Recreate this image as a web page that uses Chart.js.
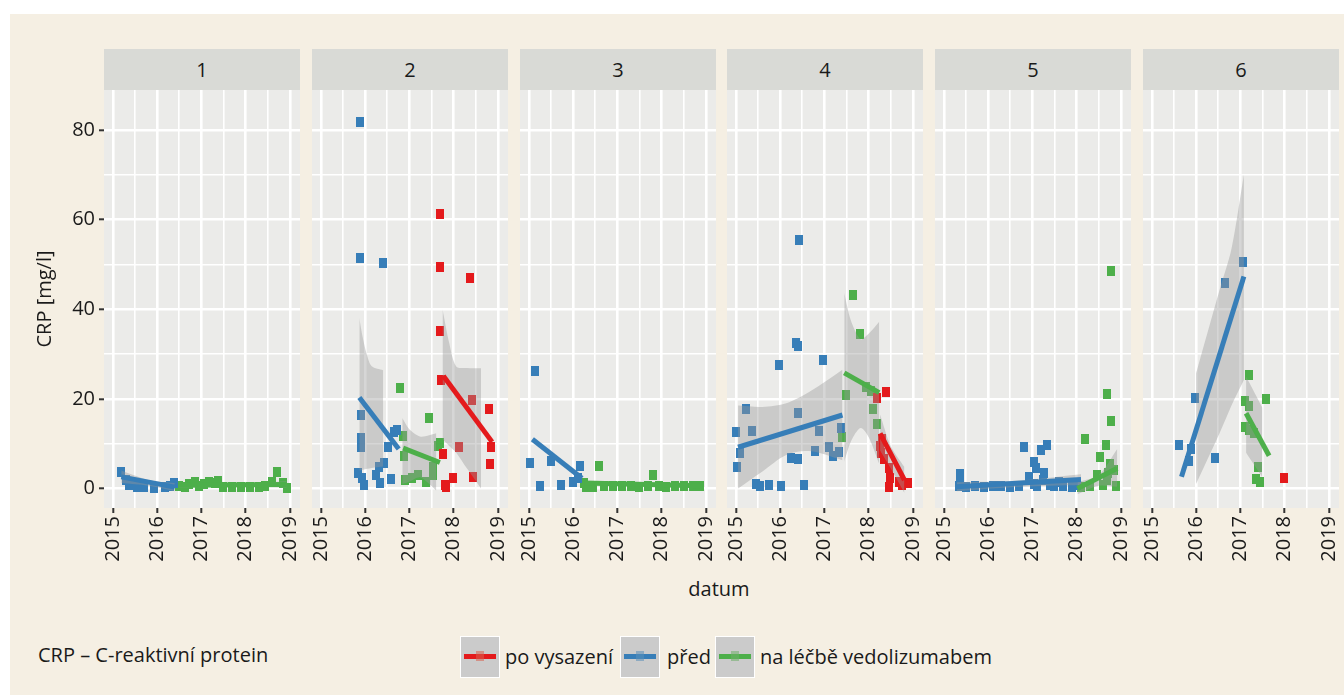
<!DOCTYPE html>
<html>
<head>
<meta charset="utf-8">
<script src="https://cdn.jsdelivr.net/npm/chart.js@4.4.0/dist/chart.umd.min.js"></script>
<style>
body { margin: 0; background: #fff; width: 1344px; height: 695px; overflow: hidden; font-family: 'Open Sans', sans-serif; color: #1a1a1a; }
#bg { position: absolute; left: 10px; top: 14px; width: 1334px; height: 681px; background: #f5efe3; }
.strip { position: absolute; top: 49px; height: 41px; background: #d9dad6; font-size: 20px; line-height: 41px; text-align: center; }
canvas { position: absolute; }
.lbl { position: absolute; font-size: 20px; white-space: nowrap; line-height: 24px; }
.key { position: absolute; top: 636px; width: 40px; height: 42px; background: #cbcbcb; border: 1px solid #fff; box-sizing: border-box; }
.key .ln { position: absolute; left: 3px; right: 3px; top: 17px; height: 5px; }
.key .pt { position: absolute; left: 15px; top: 14px; width: 8px; height: 10px; opacity: .55; }
</style>
</head>
<body>
<div id="bg"></div>
<div id="root"></div>
<script>
// facet labels, groups, ticks
const panelNames = ['1', '2', '3', '4', '5', '6'];
const groupNames = ['po vysazení', 'před', 'na léčbě vedolizumabem'];
const groupColors = ['#e41a1c', '#377eb8', '#4daf4a'];
const yearTicks = [2015, 2016, 2017, 2018, 2019];
const crpTicks = [0, 20, 40, 60, 80];

// points are [datum, CRP]; fits are [datum, CRP]; bands are [datum, lower, upper]

// panel 1
const p1Pred = [[2015.19,3.7],[2015.29,1.9],[2015.37,0.8],[2015.48,1.2],[2015.55,0.4],[2015.70,0.4],[2015.93,0.1],[2016.19,0.4],[2016.30,0.5],[2016.38,1.2]];
const p1PredFit = [[2015.19,2.6],[2016.40,0.3]];
const p1PredBand = [[2015.19,1.2,4.0],[2015.8,0.6,1.9],[2016.40,-0.6,1.2]];
const p1Lecba = [[2016.50,0.6],[2016.62,0.3],[2016.72,0.9],[2016.85,1.4],[2016.95,0.5],[2017.05,0.9],[2017.18,1.5],[2017.30,1.2],[2017.38,1.6],[2017.50,0.4],[2017.70,0.4],[2017.90,0.4],[2018.10,0.4],[2018.30,0.4],[2018.45,0.5],[2018.60,1.5],[2018.72,3.7],[2018.85,1.2],[2018.93,0.1]];
const p1LecbaFit = [[2016.50,0.7],[2018.93,0.9]];
const p1LecbaBand = [[2016.50,0.1,1.3],[2017.70,0.5,1.0],[2018.93,0.2,1.6]];

// panel 2
const p2Vys = [[2017.70,61.3],[2017.70,49.5],[2018.37,46.9],[2017.70,35.2],[2017.72,24.2],[2018.42,19.8],[2018.79,17.7],[2018.13,9.3],[2017.75,7.7],[2018.85,9.3],[2018.82,5.5],[2017.98,2.4],[2018.43,2.6],[2017.80,0.8],[2017.83,0.3]];
const p2VysFit = [[2017.77,25.1],[2018.87,10.4]];
const p2VysBand = [[2017.75,11.0,40.0],[2017.90,9.5,32.5],[2018.06,8.0,27.2],[2018.30,4.5,26.9],[2018.62,0.0,26.8]];
const p2Pred = [[2015.89,81.8],[2015.89,51.4],[2016.41,50.3],[2015.90,16.4],[2015.90,11.2],[2015.90,9.3],[2016.71,13.1],[2016.66,12.6],[2016.51,9.3],[2016.43,5.6],[2016.31,4.9],[2016.25,3.0],[2016.34,1.2],[2015.85,3.4],[2015.93,2.3],[2015.98,0.8],[2016.58,2.1]];
const p2PredFit = [[2015.87,20.3],[2016.76,8.8]];
const p2PredBand = [[2015.87,4.0,38.0],[2015.95,4.2,33.5],[2016.05,4.4,29.5],[2016.15,4.6,27.3],[2016.41,4.9,26.4]];
const p2Lecba = [[2016.78,22.5],[2017.45,15.7],[2016.86,11.7],[2017.69,10.1],[2016.88,7.3],[2017.53,4.9],[2016.90,1.9],[2017.05,2.3],[2017.20,3.0],[2017.37,1.5],[2017.53,3.0],[2017.65,9.5]];
const p2LecbaFit = [[2016.86,9.0],[2017.69,5.8]];
const p2LecbaBand = [[2016.84,1.0,15.7],[2017.00,1.5,13.2],[2017.24,2.5,11.6],[2017.45,1.0,11.9],[2017.61,-0.5,12.3]];

// panel 3
const p3Pred = [[2015.15,26.3],[2015.02,5.6],[2015.50,6.1],[2015.26,0.6],[2015.73,0.8],[2016.15,5.1],[2015.99,1.4],[2016.12,2.3]];
const p3PredFit = [[2015.08,11.0],[2016.20,2.3]];
const p3Lecba = [[2016.59,5.0],[2017.81,3.0],[2016.25,1.2],[2016.30,0.4],[2016.45,0.4],[2016.70,0.5],[2016.90,0.5],[2017.10,0.5],[2017.30,0.5],[2017.50,0.4],[2017.70,0.5],[2017.95,0.5],[2018.10,0.4],[2018.30,0.5],[2018.50,0.5],[2018.70,0.5],[2018.87,0.5]];
const p3LecbaFit = [[2016.25,1.2],[2018.87,0.6]];

// panel 4
const p4Vys = [[2018.39,21.6],[2018.20,20.1],[2018.28,7.9],[2018.35,6.5],[2018.46,4.5],[2018.49,2.3],[2018.46,0.4],[2018.69,1.5],[2018.88,1.2],[2018.25,9.5],[2018.30,11.0],[2018.75,0.8]];
const p4VysFit = [[2018.26,12.3],[2018.81,1.9]];
const p4VysBand = [[2018.26,8.5,16.5],[2018.50,4.5,9.5],[2018.81,-1.0,4.8]];
const p4Pred = [[2016.42,55.5],[2016.35,32.5],[2016.40,31.7],[2015.97,27.6],[2016.98,28.7],[2015.24,17.7],[2016.40,16.8],[2015.00,12.5],[2015.37,12.8],[2016.89,12.9],[2017.37,13.4],[2015.09,7.9],[2015.02,4.7],[2016.24,6.7],[2016.40,6.5],[2016.78,8.4],[2017.11,9.3],[2017.19,7.3],[2017.33,8.2],[2015.45,1.0],[2015.55,0.6],[2015.76,0.8],[2016.03,0.6],[2016.55,0.8]];
const p4PredFit = [[2015.05,9.2],[2017.41,16.4]];
const p4PredBand = [[2015.05,0.0,18.5],[2015.60,3.8,18.2],[2016.14,7.5,19.0],[2016.70,8.3,21.8],[2017.41,6.3,26.5]];
const p4Lecba = [[2017.64,43.2],[2017.80,34.5],[2017.49,20.9],[2017.94,22.7],[2018.09,17.7],[2018.20,14.3],[2017.41,11.6],[2018.05,21.8]];
const p4LecbaFit = [[2017.45,25.8],[2018.24,21.4]];
const p4LecbaBand = [[2017.45,6.0,43.6],[2017.60,10.5,37.5],[2017.82,13.5,33.3],[2018.00,11.5,34.5],[2018.24,5.5,37.2]];

// panel 5
const p5Pred = [[2015.36,3.2],[2015.37,2.0],[2015.35,0.5],[2015.50,0.4],[2015.70,0.5],[2015.90,0.4],[2016.10,0.5],[2016.30,0.5],[2016.50,0.4],[2016.70,0.6],[2016.82,9.2],[2017.04,6.0],[2017.08,4.5],[2017.19,8.6],[2017.34,9.7],[2016.93,2.5],[2017.27,3.5],[2017.04,1.0],[2017.10,0.5],[2017.40,0.8],[2017.50,0.5],[2017.70,0.6],[2017.90,0.4],[2018.00,0.8],[2017.60,1.5],[2017.25,2.0]];
const p5PredFit = [[2015.29,0.4],[2018.10,2.0]];
const p5PredBand = [[2015.29,-0.6,1.4],[2016.70,0.4,1.8],[2018.10,0.8,3.2]];
const p5Lecba = [[2018.77,48.5],[2018.69,21.1],[2018.78,15.1],[2018.18,11.0],[2018.67,9.7],[2018.54,7.0],[2018.47,3.0],[2018.69,2.0],[2018.85,4.1],[2018.88,0.5],[2018.10,0.4],[2018.30,0.5],[2018.60,0.8],[2018.75,5.5],[2018.72,3.5]];
const p5LecbaFit = [[2018.02,0.0],[2018.92,4.5]];
const p5LecbaBand = [[2018.02,-1.3,1.4],[2018.50,0.6,3.0],[2018.92,0.4,8.8]];

// panel 6
const p6Vys = [[2017.99,2.3]];
const p6Pred = [[2017.05,50.6],[2016.66,45.9],[2015.98,20.3],[2015.61,9.6],[2015.89,8.8],[2015.85,6.1],[2016.42,6.9]];
const p6PredFit = [[2015.67,2.6],[2017.08,47.3]];
const p6PredBand = [[2016.00,1.0,25.7],[2016.53,12.3,44.3],[2016.80,18.5,53.5],[2017.08,24.2,70.0]];
const p6Lecba = [[2017.19,25.3],[2017.10,19.6],[2017.59,19.9],[2017.19,18.3],[2017.10,13.7],[2017.20,13.0],[2017.30,12.3],[2017.40,4.9],[2017.35,2.1],[2017.45,1.5]];
const p6LecbaFit = [[2017.13,16.8],[2017.65,7.3]];
const p6LecbaBand = [[2017.13,8.0,25.0],[2017.50,2.5,18.0]];

// group order: po vysazení, před, na léčbě
const panels = [
  { pts: [[], p1Pred, p1Lecba], fit: [[], p1PredFit, p1LecbaFit], band: [[], p1PredBand, p1LecbaBand] },
  { pts: [p2Vys, p2Pred, p2Lecba], fit: [p2VysFit, p2PredFit, p2LecbaFit], band: [p2VysBand, p2PredBand, p2LecbaBand] },
  { pts: [[], p3Pred, p3Lecba], fit: [[], p3PredFit, p3LecbaFit], band: [[], [], []] },
  { pts: [p4Vys, p4Pred, p4Lecba], fit: [p4VysFit, p4PredFit, p4LecbaFit], band: [p4VysBand, p4PredBand, p4LecbaBand] },
  { pts: [[], p5Pred, p5Lecba], fit: [[], p5PredFit, p5LecbaFit], band: [[], p5PredBand, p5LecbaBand] },
  { pts: [p6Vys, p6Pred, p6Lecba], fit: [[], p6PredFit, p6LecbaFit], band: [[], p6PredBand, p6LecbaBand] }
];

Chart.defaults.font.family = "'Open Sans', sans-serif";
Chart.defaults.font.size = 20;
Chart.defaults.color = '#1a1a1a';

const RIBBON = 'rgba(153,153,153,0.4)';
const PANEL_TOP = 90, PANEL_H = 418, PANEL_W = 196, X_AXIS_H = 62;
const panelLefts = [104, 312, 520, 727, 935, 1143];

// little square markers like ggplot shape 15
function makeMarker(color) {
  const c = document.createElement('canvas');
  c.width = 8; c.height = 10;
  const cx = c.getContext('2d');
  cx.fillStyle = color;
  cx.fillRect(0, 0, 8, 10);
  return c;
}
const markers = groupColors.map(makeMarker);

const panelBg = {
  id: 'panelBg',
  beforeDraw(chart) {
    const { ctx, chartArea: a } = chart;
    ctx.save();
    ctx.fillStyle = '#ebebe9';
    ctx.fillRect(a.left, a.top, a.width, a.height);
    ctx.restore();
  }
};

function buildDatasets(p) {
  const ds = [];
  for (let g = 0; g < 3; g++) {
    if (!p.pts[g].length) continue;
    ds.push({
      type: 'scatter',
      data: p.pts[g].map(d => ({ x: d[0], y: d[1] })),
      pointStyle: markers[g], pointRadius: 5, order: 3
    });
  }
  for (let g = 0; g < 3; g++) {
    const b = p.band[g];
    if (!b.length) continue;
    ds.push({
      type: 'line', data: b.map(d => ({ x: d[0], y: d[2] })),
      borderWidth: 0, pointRadius: 0, tension: 0.3, fill: '+1', backgroundColor: RIBBON, order: 2
    });
    ds.push({
      type: 'line', data: b.map(d => ({ x: d[0], y: d[1] })),
      borderWidth: 0, pointRadius: 0, tension: 0.3, fill: false, order: 2
    });
  }
  for (let g = 0; g < 3; g++) {
    if (!p.fit[g].length) continue;
    ds.push({
      type: 'line', data: p.fit[g].map(d => ({ x: d[0], y: d[1] })),
      borderColor: groupColors[g], borderWidth: 5, borderCapStyle: 'butt',
      pointRadius: 0, fill: false, order: 1
    });
  }
  return ds;
}

const root = document.getElementById('root');

panels.forEach((p, i) => {
  const left = panelLefts[i];
  const yAxisW = i === 0 ? 84 : 0;

  const strip = document.createElement('div');
  strip.className = 'strip';
  strip.style.left = left + 'px';
  strip.style.width = PANEL_W + 'px';
  strip.textContent = panelNames[i];
  root.appendChild(strip);

  const canvas = document.createElement('canvas');
  canvas.width = PANEL_W + yAxisW;
  canvas.height = PANEL_H + X_AXIS_H;
  canvas.style.left = (left - yAxisW) + 'px';
  canvas.style.top = PANEL_TOP + 'px';
  root.appendChild(canvas);

  new Chart(canvas, {
    type: 'scatter',
    data: { datasets: buildDatasets(p) },
    options: {
      responsive: false,
      animation: false,
      devicePixelRatio: 1,
      layout: { padding: 0, autoPadding: false },
      plugins: { legend: { display: false }, tooltip: { enabled: false } },
      scales: {
        x: {
          type: 'linear', min: 2014.8, max: 2019.23,
          afterFit: s => { s.height = X_AXIS_H; s.paddingLeft = 0; s.paddingRight = 0; },
          ticks: {
            stepSize: 0.5, includeBounds: false, autoSkip: false,
            maxRotation: 90, minRotation: 90, padding: 3,
            callback: v => yearTicks.includes(v) ? String(v) : ''
          },
          grid: {
            color: '#ffffff',
            lineWidth: c => yearTicks.includes(c.tick.value) ? 2.6 : 1.6,
            tickColor: c => yearTicks.includes(c.tick.value) ? '#333333' : 'rgba(0,0,0,0)',
            tickLength: 5, tickWidth: 2
          },
          border: { display: false }
        },
        y: {
          type: 'linear', min: -4.35, max: 88.9,
          afterFit: s => { s.width = yAxisW; s.paddingTop = 0; s.paddingBottom = 0; },
          ticks: {
            display: i === 0, stepSize: 10, includeBounds: false, padding: 4,
            callback: v => crpTicks.includes(v) ? String(v) : ''
          },
          grid: {
            color: '#ffffff',
            lineWidth: c => crpTicks.includes(c.tick.value) ? 2.6 : 1.6,
            drawTicks: i === 0,
            tickColor: c => crpTicks.includes(c.tick.value) ? '#333333' : 'rgba(0,0,0,0)',
            tickLength: 5, tickWidth: 2
          },
          border: { display: false },
          title: { display: i === 0, text: 'CRP [mg/l]', padding: { top: 13, bottom: 0 } }
        }
      }
    },
    plugins: [panelBg]
  });
});

// axis title, caption and legend as page text
function addLabel(text, left, top, extra) {
  const d = document.createElement('div');
  d.className = 'lbl';
  d.textContent = text;
  d.style.left = left + 'px';
  d.style.top = top + 'px';
  if (extra) Object.assign(d.style, extra);
  root.appendChild(d);
  return d;
}
addLabel('datum', 719, 577, { transform: 'translateX(-50%)' });
addLabel('CRP – C-reaktivní protein', 38, 643);

const keyLefts = [460, 620, 715];
const textLefts = [505, 667, 760];
const keyPointColors = ['#d9614f', '#5b8fb9', '#6fae69'];
groupNames.forEach((name, g) => {
  const key = document.createElement('div');
  key.className = 'key';
  key.style.left = keyLefts[g] + 'px';
  const ln = document.createElement('div');
  ln.className = 'ln';
  ln.style.background = groupColors[g];
  const pt = document.createElement('div');
  pt.className = 'pt';
  pt.style.background = keyPointColors[g];
  key.appendChild(ln);
  key.appendChild(pt);
  root.appendChild(key);
  addLabel(name, textLefts[g], 645);
});
</script>
</body>
</html>
